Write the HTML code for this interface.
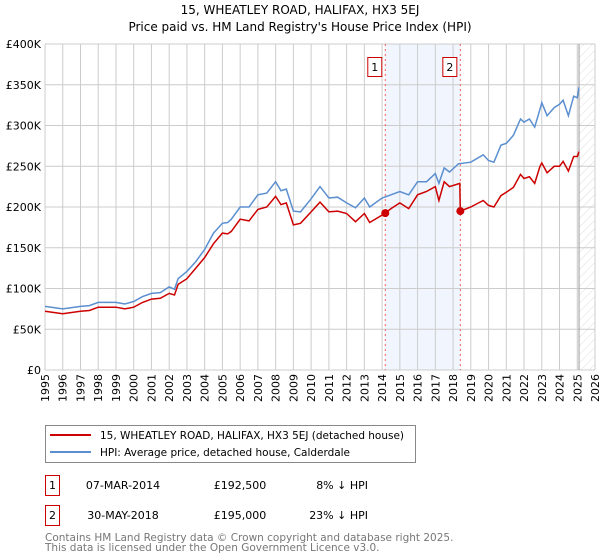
<!DOCTYPE html>
<html><head><meta charset="utf-8"><style>
body{margin:0;background:#fff;font-family:"DejaVu Sans","Liberation Sans",sans-serif;}
svg{display:block}
</style></head><body>
<svg id="c" width="600" height="560" xmlns="http://www.w3.org/2000/svg" font-family="DejaVu Sans, Liberation Sans, sans-serif">
<text x="300" y="14" text-anchor="middle" font-size="12">15, WHEATLEY ROAD, HALIFAX, HX3 5EJ</text>
<text x="300" y="31" text-anchor="middle" font-size="12">Price paid vs. HM Land Registry's House Price Index (HPI)</text>
<g id="grid"></g>
<g id="marks"></g>
<g id="axes"></g>
<g>
<rect x="45.5" y="425.5" width="370" height="37" fill="#fff" stroke="#888"/>
<line x1="50" y1="435" x2="91" y2="435" stroke="#cc0000" stroke-width="2"/>
<text x="100" y="439" font-size="10.5" textLength="304">15, WHEATLEY ROAD, HALIFAX, HX3 5EJ (detached house)</text>
<line x1="50" y1="452" x2="91" y2="452" stroke="#5b8fd0" stroke-width="2"/>
<text x="100" y="456" font-size="10.5" textLength="250">HPI: Average price, detached house, Calderdale</text>
</g>
<g font-size="11">
<rect x="45.5" y="475.5" width="14" height="20" fill="none" stroke="#cc0000"/>
<text x="52.5" y="489" text-anchor="middle">1</text>
<text x="123" y="489" text-anchor="middle">07-MAR-2014</text>
<text x="240" y="489" text-anchor="middle">£192,500</text>
<text x="368" y="489" text-anchor="end">8% ↓ HPI</text>
<rect x="45.5" y="505.5" width="14" height="20" fill="none" stroke="#cc0000"/>
<text x="52.5" y="519" text-anchor="middle">2</text>
<text x="123" y="519" text-anchor="middle">30-MAY-2018</text>
<text x="240" y="519" text-anchor="middle">£195,000</text>
<text x="368" y="519" text-anchor="end">23% ↓ HPI</text>
</g>
<text x="45" y="541" font-size="10.5" fill="#777">Contains HM Land Registry data © Crown copyright and database right 2025.</text>
<text x="45" y="551" font-size="10.5" fill="#777">This data is licensed under the Open Government Licence v3.0.</text>
</svg>
<script>
const yearTicks=[1995,1996,1997,1998,1999,2000,2001,2002,2003,2004,2005,2006,2007,2008,2009,2010,2011,2012,2013,2014,2015,2016,2017,2018,2019,2020,2021,2022,2023,2024,2025,2026];
const valueTicks=[0,50,100,150,200,250,300,350,400];
const valueLabels=["£0","£50K","£100K","£150K","£200K","£250K","£300K","£350K","£400K"];
const hpiYears=[1995,1996,1997,1997.5,1998,1999,1999.5,2000,2000.5,2001,2001.5,2002,2002.3,2002.5,2003,2003.5,2004,2004.5,2005,2005.3,2005.5,2006,2006.5,2007,2007.5,2008,2008.3,2008.6,2009,2009.4,2010,2010.5,2011,2011.5,2012,2012.5,2013,2013.3,2014,2014.5,2015,2015.5,2016,2016.5,2017,2017.2,2017.5,2017.8,2018.3,2019,2019.7,2020,2020.3,2020.7,2021,2021.4,2021.8,2022,2022.3,2022.6,2022.9,2023,2023.3,2023.7,2024,2024.2,2024.5,2024.8,2025,2025.1];
const hpiValues=[78,75,78,79,83,83,81,84,90,94,95,102,99,112,121,133,148,168,180,181,185,200,200,215,217,231,220,222,195,194,210,225,211,212,205,199,211,200,211,215,219,215,231,231,241,229,248,243,253,255,264,257,255,276,278,288,308,304,308,298,320,328,312,322,326,331,312,336,334,347];
const propYears=[1995,1996,1997,1997.5,1998,1999,1999.5,2000,2000.5,2001,2001.5,2002,2002.3,2002.5,2003,2003.5,2004,2004.5,2005,2005.3,2005.5,2006,2006.5,2007,2007.5,2008,2008.3,2008.6,2009,2009.4,2010,2010.5,2011,2011.5,2012,2012.5,2013,2013.3,2014.18,2014.5,2015,2015.5,2016,2016.5,2017,2017.2,2017.5,2017.8,2018.38,2018.41,2019,2019.7,2020,2020.3,2020.7,2021,2021.4,2021.8,2022,2022.3,2022.6,2022.9,2023,2023.3,2023.7,2024,2024.2,2024.5,2024.8,2025,2025.1];
const propValues=[72,69,72,73,77,77,75,77,83,87,88,94,92,105,112,125,138,155,168,167,170,185,183,197,200,213,203,205,178,180,194,206,194,195,192,182,192,181,192.5,198,205,198,215,219,225,208,231,225,229,195,200,208,202,200,214,218,224,240,235,237,229,250,254,242,250,250,256,244,262,262,268];
const saleYears=[2014.18,2018.41];
const saleValues=[192.5,195];
const saleLabels=["1","2"];

const L=45,R=595,T=44,B=370;
const X=y=>L+(y-1995)*(R-L)/31;
const Y=v=>B-v*(B-T)/400;
const NS="http://www.w3.org/2000/svg";
function mk(tag,attrs,parent){const e=document.createElementNS(NS,tag);for(const k in attrs)e.setAttribute(k,attrs[k]);parent.appendChild(e);return e;}
const grid=document.getElementById('grid'),marks=document.getElementById('marks'),axes=document.getElementById('axes');

const sh=mk('rect',{x:X(saleYears[0]),y:T,width:X(saleYears[1])-X(saleYears[0]),height:B-T,fill:'#f1f5fd'},grid);


const defs=mk('defs',{},grid);
const pat=mk('pattern',{id:'h',width:6,height:6,patternUnits:'userSpaceOnUse',patternTransform:'rotate(45)'},defs);
mk('line',{x1:0,y1:0,x2:0,y2:6,stroke:'#d4d4d4','stroke-width':0.8},pat);
const hx=X(2025.1);
const ht=mk('rect',{x:hx,y:T,width:R-hx,height:B-T,fill:'url(#h)'},grid);



yearTicks.forEach(t=>{
  const l=mk('line',{x1:X(t),y1:T,x2:X(t),y2:B,stroke:'#ccc','stroke-width':1},grid);
  
  
  const tx=mk('text',{x:0,y:0,'font-size':11,'text-anchor':'end',transform:`translate(${X(t)+4},${B+4}) rotate(-90)`},axes);
  tx.textContent=t;
  
  
});
valueTicks.forEach((v,i)=>{
  const l=mk('line',{x1:L,y1:Y(v),x2:R,y2:Y(v),stroke:'#ccc','stroke-width':1},grid);
  
  
  const tx=mk('text',{x:L-4,y:Y(v)+4,'font-size':11,'text-anchor':'end'},axes);
  tx.textContent=valueLabels[i];
  
  
});
const nl=mk('line',{x1:X(2025.1),y1:T,x2:X(2025.1),y2:B,stroke:'#999','stroke-width':1},grid);



saleYears.forEach((s,i)=>{
  const l=mk('line',{x1:X(s),y1:T,x2:X(s),y2:B,stroke:'#f06060','stroke-width':1,'stroke-dasharray':'2,3'},marks);
  
  
  const r=mk('rect',{x:X(s)-17.5,y:57.5,width:14,height:19,fill:'#fff',stroke:'#cc0000'},marks);
  
  
  const t=mk('text',{x:X(s)-10.5,y:71,'font-size':11,'text-anchor':'middle'},marks);
  t.textContent=saleLabels[i];
  
  
});

const hp=mk('path',{d:hpiYears.map((y,i)=>(i?'L':'M')+X(y).toFixed(1)+','+Y(hpiValues[i]).toFixed(1)).join(''),fill:'none',stroke:'#5b8fd0','stroke-width':1.5},marks);


const pp=mk('path',{d:propYears.map((y,i)=>(i?'L':'M')+X(y).toFixed(1)+','+Y(propValues[i]).toFixed(1)).join(''),fill:'none',stroke:'#cc0000','stroke-width':1.5},marks);


saleYears.forEach((s,i)=>{
  const c=mk('circle',{cx:X(s),cy:Y(saleValues[i]),r:4,fill:'#cc0000'},marks);
  
  
});
</script>
</body></html>
